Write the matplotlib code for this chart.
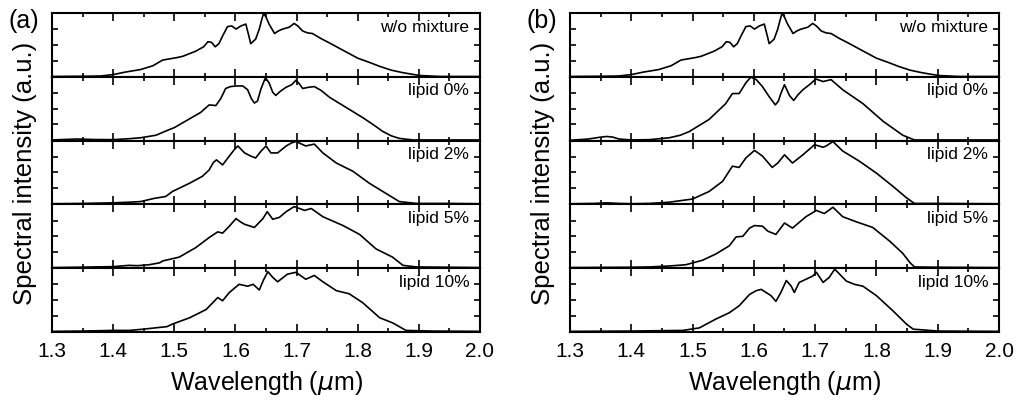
import matplotlib
matplotlib.use("Agg")
import matplotlib.pyplot as plt
from matplotlib.ticker import MultipleLocator

# --- data (wavelength in um, normalised intensity) ---
labels = ['w/o mixture', 'lipid 0%', 'lipid 2%', 'lipid 5%', 'lipid 10%']

ref_wl = [1.30, 1.34, 1.36, 1.38, 1.40, 1.42, 1.445, 1.465, 1.481, 1.493, 1.505, 1.514, 1.535,
          1.548, 1.555, 1.561, 1.567, 1.573, 1.579, 1.587, 1.594, 1.601, 1.609, 1.617, 1.622,
          1.625, 1.633, 1.639, 1.643, 1.646, 1.650, 1.655, 1.664, 1.670, 1.677, 1.688,
          1.696, 1.702, 1.71, 1.718, 1.726, 1.74, 1.754, 1.775, 1.80, 1.82, 1.836, 1.855,
          1.874, 1.901, 1.934, 1.96, 2.0]
ref_int = [0.0, 0.003, 0.004, 0.008, 0.03, 0.07, 0.11, 0.17, 0.26, 0.28, 0.30, 0.32, 0.40,
           0.47, 0.55, 0.54, 0.47, 0.52, 0.64, 0.79, 0.80, 0.75, 0.80, 0.83, 0.64,
           0.52, 0.59, 0.75, 0.90, 1.0, 0.94, 0.83, 0.68, 0.72, 0.75, 0.78,
           0.84, 0.80, 0.72, 0.69, 0.68, 0.60, 0.53, 0.42, 0.29, 0.22, 0.16, 0.10,
           0.06, 0.016, 0.0, 0.0, 0.0]

# panel (a)
a0_wl = [1.30, 1.34, 1.37, 1.40, 1.426, 1.445, 1.47, 1.492, 1.50, 1.525, 1.543, 1.557,
         1.568, 1.576, 1.584, 1.592, 1.601, 1.612, 1.62, 1.626, 1.631, 1.636, 1.642, 1.649,
         1.655, 1.661, 1.666, 1.674, 1.683, 1.692, 1.699, 1.704, 1.71, 1.72, 1.729, 1.74,
         1.754, 1.781, 1.808, 1.825, 1.841, 1.855, 1.868, 1.89, 1.95, 2.0]
a0_int = [0.005, 0.02, 0.012, 0.01, 0.025, 0.04, 0.08, 0.17, 0.20, 0.34, 0.44, 0.56,
          0.55, 0.66, 0.82, 0.85, 0.86, 0.86, 0.80, 0.66, 0.59, 0.62, 0.82, 0.99,
          0.91, 0.76, 0.71, 0.78, 0.84, 0.88, 0.95, 0.90, 0.82, 0.84, 0.85, 0.79,
          0.68, 0.52, 0.36, 0.25, 0.14, 0.07, 0.03, 0.005, 0.005, 0.005]

a2_wl = [1.30, 1.35, 1.40, 1.426, 1.445, 1.467, 1.486, 1.497, 1.525, 1.546, 1.557, 1.564,
         1.569, 1.579, 1.59, 1.598, 1.604, 1.615, 1.625, 1.633, 1.642, 1.65, 1.658, 1.669,
         1.683, 1.692, 1.699, 1.706, 1.715, 1.729, 1.743, 1.765, 1.792, 1.819, 1.846,
         1.868, 1.896, 1.95, 2.0]
a2_int = [0.005, 0.01, 0.02, 0.03, 0.04, 0.09, 0.12, 0.20, 0.33, 0.44, 0.54, 0.66,
          0.70, 0.62, 0.76, 0.86, 0.92, 0.81, 0.76, 0.73, 0.84, 0.92, 0.81, 0.81,
          0.92, 0.97, 0.99, 0.96, 0.92, 0.95, 0.81, 0.65, 0.52, 0.33, 0.17,
          0.04, 0.01, 0.01, 0.005]

a5_wl = [1.30, 1.34, 1.40, 1.426, 1.44, 1.459, 1.476, 1.481, 1.508, 1.535, 1.557, 1.571,
         1.579, 1.59, 1.601, 1.608, 1.615, 1.631, 1.645, 1.652, 1.661, 1.672, 1.683, 1.696,
         1.705, 1.713, 1.724, 1.743, 1.776, 1.803, 1.83, 1.857, 1.874, 1.896, 1.95, 2.0]
a5_int = [0.005, 0.01, 0.02, 0.04, 0.035, 0.05, 0.08, 0.11, 0.17, 0.32, 0.48, 0.57,
          0.55, 0.66, 0.78, 0.73, 0.69, 0.64, 0.78, 0.89, 0.77, 0.80, 0.89, 0.97,
          0.94, 0.91, 0.94, 0.81, 0.67, 0.53, 0.30, 0.17, 0.04, 0.015, 0.01, 0.005]

a10_wl = [1.30, 1.35, 1.40, 1.426, 1.45, 1.459, 1.488, 1.497, 1.525, 1.552, 1.571, 1.579,
          1.59, 1.606, 1.62, 1.629, 1.639, 1.646, 1.653, 1.661, 1.669, 1.685, 1.699, 1.715,
          1.729, 1.743, 1.765, 1.786, 1.808, 1.836, 1.857, 1.879, 1.92, 2.0]
a10_int = [0.005, 0.01, 0.02, 0.02, 0.04, 0.05, 0.08, 0.12, 0.22, 0.35, 0.54, 0.49,
           0.62, 0.75, 0.72, 0.75, 0.66, 0.82, 0.95, 0.86, 0.79, 0.91, 0.94, 0.83,
           0.89, 0.79, 0.65, 0.60, 0.46, 0.22, 0.14, 0.02, 0.01, 0.005]

# panel (b)
b0_wl = [1.30, 1.33, 1.35, 1.36, 1.37, 1.38, 1.40, 1.43, 1.462, 1.48, 1.495, 1.51, 1.527,
         1.54, 1.554, 1.565, 1.576, 1.587, 1.595, 1.604, 1.614, 1.625, 1.635, 1.640, 1.644,
         1.65, 1.658, 1.665, 1.672, 1.68, 1.692, 1.701, 1.713, 1.726, 1.745, 1.778, 1.811,
         1.843, 1.862, 1.9, 2.0]
b0_int = [0.0, 0.02, 0.05, 0.06, 0.05, 0.02, 0.005, 0.01, 0.04, 0.08, 0.14, 0.23, 0.33,
          0.45, 0.58, 0.74, 0.74, 0.91, 1.0, 0.96, 0.85, 0.69, 0.56, 0.62, 0.74,
          0.88, 0.71, 0.63, 0.72, 0.80, 0.89, 0.97, 0.93, 0.96, 0.80, 0.58, 0.30,
          0.08, 0.005, 0.005, 0.005]

b2_wl = [1.30, 1.34, 1.36, 1.38, 1.40, 1.429, 1.462, 1.50, 1.527, 1.549, 1.565, 1.576,
         1.587, 1.601, 1.614, 1.63, 1.639, 1.65, 1.663, 1.68, 1.699, 1.713, 1.718,
         1.729, 1.745, 1.772, 1.80, 1.827, 1.849, 1.862, 1.9, 2.0]
b2_int = [0.005, 0.01, 0.02, 0.01, 0.005, 0.01, 0.03, 0.08, 0.20, 0.36, 0.60, 0.58,
          0.73, 0.85, 0.76, 0.58, 0.65, 0.78, 0.65, 0.78, 0.94, 0.90, 0.92,
          0.99, 0.84, 0.68, 0.49, 0.28, 0.10, 0.01, 0.01, 0.005]

b5_wl = [1.30, 1.40, 1.429, 1.462, 1.489, 1.516, 1.538, 1.56, 1.571, 1.582, 1.593, 1.601,
         1.614, 1.623, 1.636, 1.65, 1.663, 1.685, 1.702, 1.715, 1.729, 1.745, 1.767,
         1.794, 1.822, 1.843, 1.855, 1.862, 1.9, 2.0]
b5_int = [0.005, 0.01, 0.015, 0.03, 0.05, 0.12, 0.22, 0.35, 0.49, 0.50, 0.63, 0.67,
          0.66, 0.58, 0.53, 0.71, 0.63, 0.81, 0.91, 0.86, 0.96, 0.81, 0.73,
          0.64, 0.42, 0.23, 0.08, 0.015, 0.01, 0.005]

b10_wl = [1.30, 1.40, 1.484, 1.511, 1.538, 1.56, 1.576, 1.593, 1.604, 1.612, 1.62, 1.628,
          1.636, 1.644, 1.653, 1.661, 1.666, 1.674, 1.685, 1.696, 1.702, 1.713, 1.723,
          1.732, 1.74, 1.751, 1.764, 1.778, 1.80, 1.827, 1.849, 1.86, 1.9, 2.0]
b10_int = [0.005, 0.01, 0.02, 0.06, 0.20, 0.30, 0.41, 0.59, 0.65, 0.67, 0.62, 0.57,
           0.48, 0.62, 0.81, 0.72, 0.62, 0.78, 0.83, 0.88, 0.94, 0.78, 0.86,
           0.99, 0.91, 0.80, 0.75, 0.72, 0.57, 0.33, 0.12, 0.04, 0.01, 0.005]

panels = {
    '(a)': [(ref_wl, ref_int), (a0_wl, a0_int), (a2_wl, a2_int), (a5_wl, a5_int), (a10_wl, a10_int)],
    '(b)': [(ref_wl, ref_int), (b0_wl, b0_int), (b2_wl, b2_int), (b5_wl, b5_int), (b10_wl, b10_int)],
}

# --- style ---
plt.rcParams['font.family'] = ['Liberation Sans', 'DejaVu Sans']
plt.rcParams['axes.linewidth'] = 1.5

W, H = 1017, 403
fig = plt.figure(figsize=(W / 100, H / 100), dpi=100)

top_px, bot_px = 13, 332
row_h = (bot_px - top_px) / 5 / H
lefts = {'(a)': (52, 480), '(b)': (570, 999)}

for name, curves in panels.items():
    x0, x1 = lefts[name]
    for i, (wl, inten) in enumerate(curves):
        y = 1 - top_px / H - (i + 1) * row_h
        ax = fig.add_axes([x0 / W, y, (x1 - x0) / W, row_h])
        ax.plot(wl, inten, color='black', lw=1.2, solid_joinstyle='round')
        ax.set_xlim(1.3, 2.0)
        ax.set_ylim(-0.005, 1.005)
        ax.xaxis.set_major_locator(MultipleLocator(0.1))
        ax.xaxis.set_minor_locator(MultipleLocator(0.05))
        ax.set_yticks([0.25, 0.5, 0.75])
        ax.tick_params(axis='both', which='both', direction='in', top=True, right=True,
                       width=1.2, labelleft=False)
        ax.tick_params(axis='x', which='major', length=6)
        ax.tick_params(axis='x', which='minor', length=3)
        ax.tick_params(axis='y', which='major', length=4)
        ax.text(0.975, 0.78, labels[i], transform=ax.transAxes, ha='right', va='center',
                fontsize=12.5)
        if i < 4:
            ax.tick_params(axis='x', labelbottom=False)
        else:
            ax.tick_params(axis='x', labelsize=15, pad=7)
            ax.xaxis.set_major_formatter(plt.FormatStrFormatter('%.1f'))

    fig.text((x0 - 28) / W, 1 - 21 / H, name, ha='center', va='center', fontsize=18)
    fig.text((x0 - 27) / W, 1 - 173 / H, 'Spectral intensity (a.u.)', rotation=90,
             ha='center', va='center', fontsize=18.5)
    fig.text((x0 + x1) / 2 / W, 1 - 383 / H, r'Wavelength ($\mu$m)', ha='center',
             va='center', fontsize=18)

fig.savefig('out.png', dpi=100)
